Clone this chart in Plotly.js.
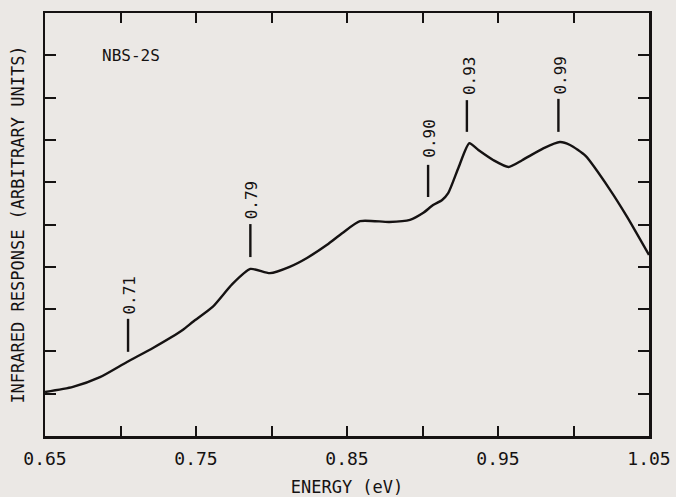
<!DOCTYPE html>
<html>
<head>
<meta charset="utf-8">
<script src="https://cdn.plot.ly/plotly-3.0.1.min.js"></script>
<style>html,body{margin:0;padding:0;background:#ebe8e5;}#chart{width:676px;height:497px;}</style>
</head>
<body>
<div id="chart"></div>
<script>
// Curve: energy (eV) vs infrared response (arbitrary units)
const energy = [0.650, 0.6685, 0.6864, 0.7043, 0.7215, 0.7414, 0.748, 0.761, 0.774, 0.786, 0.799, 0.812, 0.8235, 0.8368, 0.847, 0.8586, 0.878, 0.8917, 0.9003, 0.907, 0.913, 0.917, 0.924, 0.931, 0.937, 0.947, 0.957, 0.966, 0.980, 0.991, 0.9977, 1.008, 1.0242, 1.0355, 1.05];
const response = [1.04, 1.16, 1.39, 1.75, 2.08, 2.51, 2.70, 3.05, 3.59, 3.95, 3.85, 4.00, 4.21, 4.52, 4.80, 5.08, 5.06, 5.11, 5.27, 5.46, 5.58, 5.74, 6.36, 6.92, 6.76, 6.52, 6.36, 6.52, 6.80, 6.95, 6.88, 6.62, 5.82, 5.18, 4.28];

// Peak markers
const peakLabels = ["0.71", "0.79", "0.90", "0.93", "0.99"];
const peakX = [0.705, 0.786, 0.9037, 0.9294, 0.990];
const peakLineLo = [1.99, 4.23, 5.65, 7.19, 7.19];
const peakLineHi = [2.77, 5.01, 6.41, 7.94, 7.97];
const peakLabelY = [3.32, 5.58, 7.03, 8.53, 8.53];

// Axis ticks
const xTickVals = [0.65, 0.70, 0.75, 0.80, 0.85, 0.90, 0.95, 1.00, 1.05];
const xTickText = ["0.65", "", "0.75", "", "0.85", "", "0.95", "", "1.05"];
const yTickVals = [1, 2, 3, 4, 5, 6, 7, 8, 9];

const sampleName = "NBS-2S";

const FONT = "DejaVu Sans Mono, Liberation Mono, monospace";
const INK = "#151212";
const BG = "#ebe8e5";

const shapes = peakX.map((x, i) => ({
  type: "line", xref: "x", yref: "y",
  x0: x, x1: x, y0: peakLineLo[i], y1: peakLineHi[i],
  line: {color: INK, width: 2.4}
}));

const annotations = peakX.map((x, i) => ({
  x: x, y: peakLabelY[i], xref: "x", yref: "y",
  text: peakLabels[i], showarrow: false, textangle: -90,
  font: {family: FONT, size: 16, color: INK},
  xshift: 2
}));
annotations.push({
  x: 0.6864, y: 9.0, xref: "x", yref: "y", xanchor: "left",
  text: sampleName, showarrow: false,
  font: {family: FONT, size: 16, color: INK}
});

const trace = {
  x: energy, y: response, type: "scatter", mode: "lines",
  line: {color: INK, width: 2.4, shape: "spline", smoothing: 0.6},
  hoverinfo: "skip"
};

const layout = {
  width: 676, height: 497,
  margin: {l: 45, r: 27, t: 13, b: 61},
  paper_bgcolor: BG, plot_bgcolor: BG,
  showlegend: false,
  font: {family: FONT, size: 17, color: INK},
  xaxis: {
    range: [0.65, 1.05], tickvals: xTickVals, ticktext: xTickText,
    ticks: "inside", ticklen: 10, tickwidth: 2, tickcolor: INK,
    showline: true, linecolor: INK, linewidth: 2.5, mirror: "ticks",
    showgrid: false, zeroline: false, ticklabelstandoff: 5,
    tickfont: {family: FONT, size: 18, color: INK},
    title: {text: "ENERGY (eV)", font: {family: FONT, size: 17, color: INK}, standoff: 14}
  },
  yaxis: {
    range: [0, 10], tickvals: yTickVals, showticklabels: false,
    ticks: "inside", ticklen: 11, tickwidth: 2, tickcolor: INK,
    showline: true, linecolor: INK, linewidth: 2.5, mirror: "ticks",
    showgrid: false, zeroline: false,
    title: {text: "INFRARED RESPONSE (ARBITRARY UNITS)", font: {family: FONT, size: 17, color: INK}, standoff: 14}
  },
  shapes: shapes,
  annotations: annotations
};

Plotly.newPlot("chart", [trace], layout, {displayModeBar: false, staticPlot: true});
</script>
</body>
</html>
